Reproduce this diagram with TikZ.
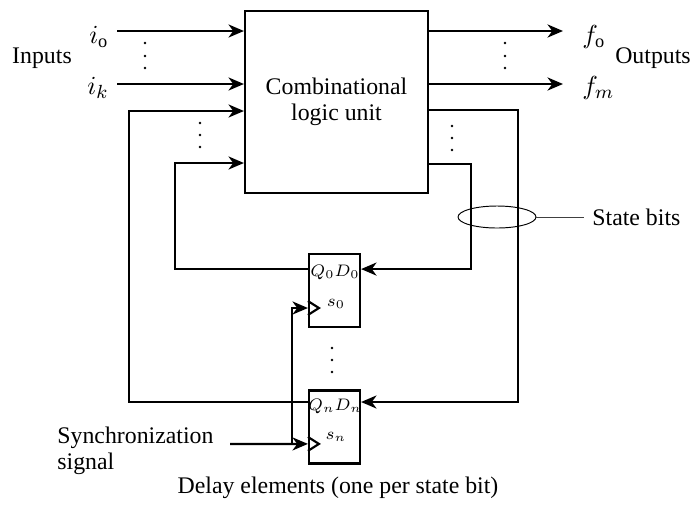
\documentclass[tikz,border=0pt]{standalone}
\usepackage{fontspec}
\setmainfont{Liberation Serif}
\usepackage{tikz}
\usetikzlibrary{arrows.meta,positioning,shapes.geometric}

\begin{document}
\begin{tikzpicture}[x=0.42pt, y=-0.42pt, >={Stealth[length=6.5pt,width=5.5pt,inset=2pt]},
    every node/.style={font=\fontsize{10}{11}\selectfont},
    thick/.style={line width=0.9pt},
    ffbox/.style={draw, thick, minimum width=51*0.42pt, minimum height=73*0.42pt, inner sep=0pt},
    fftext/.style={font=\fontsize{7}{8}\selectfont, inner sep=0pt},
    pinlab/.style={font=\fontsize{11}{12}\selectfont}]
            \useasboundingbox (0,0) rectangle (693,504);

            % Combinational logic unit
            \node[draw, thick, minimum width=183*0.42pt, minimum height=182*0.42pt, align=center] (unit) at (336.5,102) {Combinational\\logic unit};

            % Inputs
            \coordinate (in0) at (117,31);
            \coordinate (ink) at (117,84);
            \draw[->, thick] (in0) -- (in0 -| unit.west);
            \draw[->, thick] (ink) -- (ink -| unit.west);
            \node[pinlab, anchor=east] (in0lab) at (117,37) {$i_{\mathrm{o}}$};
            \node[pinlab, anchor=east] (inklab) at (117,88) {$i_k$};
            \node (inlab) at (42,58) {Inputs};
            \foreach \y in {43,56,68} \fill (145,\y) circle (0.55pt);

            % Outputs
            \coordinate (out0) at (563,31);
            \coordinate (outm) at (563,84);
            \draw[->, thick] (out0 -| unit.east) -- (out0);
            \draw[->, thick] (outm -| unit.east) -- (outm);
            \node[pinlab, anchor=west] (out0lab) at (574,37) {$f_{\mathrm{o}}$};
            \node[pinlab, anchor=west] (outmlab) at (574,88) {$f_m$};
            \node (outlab) at (653,58) {Outputs};
            \foreach \y in {43,56,68} \fill (505,\y) circle (0.55pt);

            % Delay elements
            \node[ffbox] (ff0) at (334.5,290.5) {};
            \node[ffbox] (ffn) at (334.5,427) {};
            \node[fftext] (ff0top) at (335,272) {$Q_0D_0$};
            \node[fftext] (ff0clk) at (336,304) {$s_0$};
            \node[fftext] (ffntop) at (335,406) {$Q_nD_n$};
            \node[fftext] (ffnclk) at (336,437) {$s_n$};
            \coordinate (ck0) at ([yshift=-7.35pt]ff0.west);
            \coordinate (ckn) at ([yshift=-7.1pt]ffn.west);
            \draw[thick] (ck0) ++(0,-7) -- ++(11,7) -- ++(-11,7);
            \draw[thick] (ckn) ++(0,-7) -- ++(11,7) -- ++(-11,7);
            \foreach \y in {348,360,372} \fill (332,\y) circle (0.55pt);

            % State feedback, right side
            \coordinate (fbr0) at (471,164);
            \coordinate (fbrn) at (518,110);
            \draw[->, thick] (fbr0 -| unit.east) -- (fbr0) |- ([yshift=9pt]ff0.east);
            \draw[->, thick] (fbrn -| unit.east) -- (fbrn) |- ([yshift=10.5pt]ffn.east);
            \foreach \y in {126,138,150} \fill (452,\y) circle (0.55pt);

            % State feedback, left side
            \coordinate (fbl0) at (175,163);
            \coordinate (fbln) at (129,111);
            \draw[->, thick] ([yshift=9pt]ff0.west) -| (fbl0) -- (fbl0 -| unit.west);
            \draw[->, thick] ([yshift=10.5pt]ffn.west) -| (fbln) -- (fbln -| unit.west);
            \foreach \y in {123,135,147} \fill (200,\y) circle (0.55pt);

            % State bits
            \node[draw, ellipse, thin, minimum width=78*0.42pt, minimum height=22*0.42pt, inner sep=0pt] (bus) at (497,217) {};
            \node[anchor=west] (statelab) at (584,217) {State bits};
            \draw[thin, black!75] (bus) -- (statelab);

            % Synchronization
            \coordinate (sync) at (230,444);
            \coordinate (tap) at (292,444);
            \draw[->, thick] (sync) -- (ckn);
            \draw[->, thick] (tap) |- (ck0);
            \node[anchor=west, align=left] (synclab) at (49,451) {Synchronization\\signal};
            \node (delaylab) at (338,488) {Delay elements (one per state bit)};
        \end{tikzpicture}
\end{document}
